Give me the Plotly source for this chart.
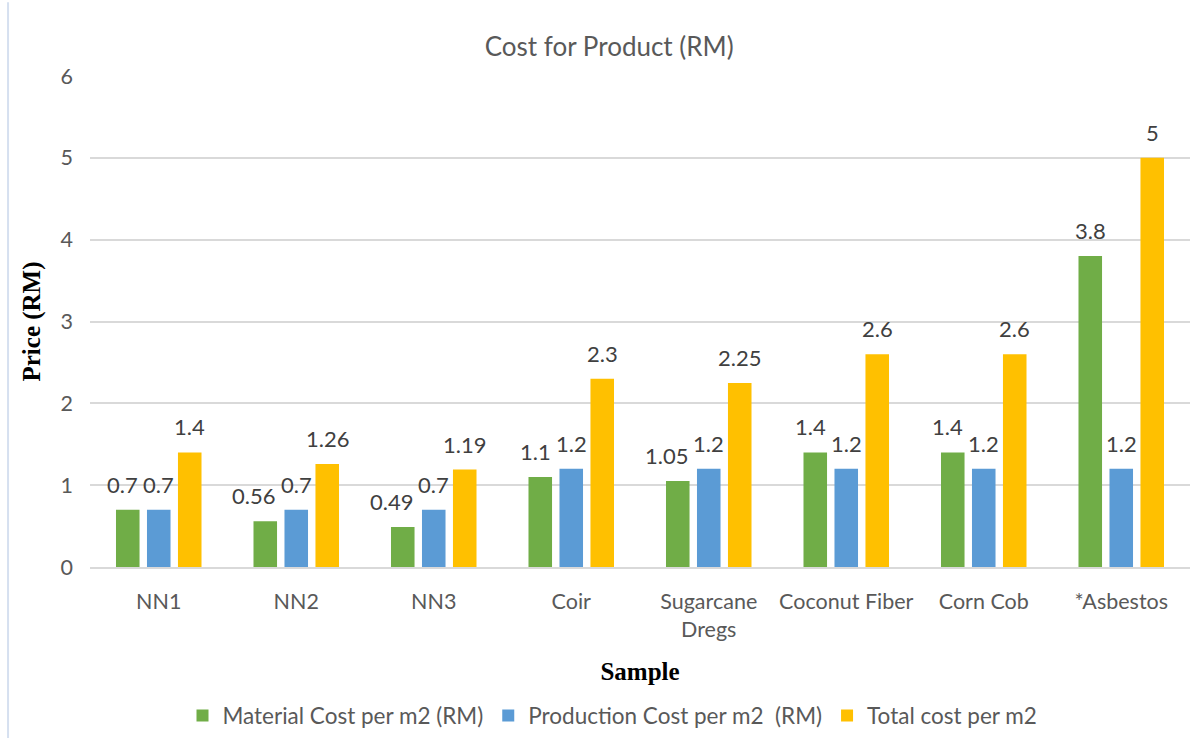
import plotly.graph_objects as go

categories = ["NN1", "NN2", "NN3", "Coir", "Sugarcane<br>Dregs", "Coconut Fiber", "Corn Cob", "*Asbestos"]
material = [0.7, 0.56, 0.49, 1.1, 1.05, 1.4, 1.4, 3.8]
production = [0.7, 0.7, 0.7, 1.2, 1.2, 1.2, 1.2, 1.2]
total = [1.4, 1.26, 1.19, 2.3, 2.25, 2.6, 2.6, 5]
series_names = ["Material Cost per m2 (RM)", "Production Cost per m2  (RM)", "Total cost per m2"]
colors = ["#70AD47", "#5B9BD5", "#FFC000"]

FONT = "Lato, Open Sans, sans-serif"
W, H = 1204, 738
ML, MR, MT, MB = 90, 14, 76, 171
BARGAP = 0.324
GROUPGAP = 0.24
YMAX = 6
LABEL_SIZE = 22
PLOT_W = W - ML - MR
PLOT_H = H - MT - MB

fig = go.Figure()
series = [material, production, total]
for name, vals, col in zip(series_names, series, colors):
    fig.add_trace(go.Bar(x=categories, y=vals, name=name, marker_color=col, marker_line_width=0))

# data labels at each bar's value, nudged sideways when neighbouring labels would collide
slot = PLOT_W / len(categories) * (1 - BARGAP) / len(series)
px_per_unit = PLOT_H / YMAX


def text_width(s):
    return sum(0.58 * LABEL_SIZE if ch.isdigit() else 0.25 * LABEL_SIZE for ch in s)


for ci, c in enumerate(categories):
    vals = [s[ci] for s in series]
    texts = [f"{v:g}" for v in vals]
    widths = [text_width(t) for t in texts]
    shifts = [(i - 1) * slot for i in range(len(series))]
    for i in range(len(series) - 2, -1, -1):
        j = i + 1
        if abs(vals[i] - vals[j]) * px_per_unit < 26:
            need = widths[i] / 2 + widths[j] / 2 + 5
            dist = shifts[j] - shifts[i]
            if dist < need:
                shifts[i] -= need - dist
    for i, (v, t) in enumerate(zip(vals, texts)):
        fig.add_annotation(x=c, y=v, xref="x", yref="y", text=t, showarrow=False,
                           xshift=shifts[i], yshift=10, yanchor="bottom",
                           font=dict(size=LABEL_SIZE, color="#404040", family=FONT))

fig.update_layout(
    width=W, height=H,
    margin=dict(l=ML, r=MR, t=MT, b=MB, autoexpand=False),
    paper_bgcolor="white", plot_bgcolor="white",
    font=dict(family=FONT, color="#595959", size=21),
    title=dict(text="Cost for Product (RM)", x=0.506, xanchor="center", y=0.936, yanchor="middle",
               font=dict(size=26, color="#595959", family=FONT)),
    barmode="group", bargap=BARGAP, bargroupgap=GROUPGAP,
    legend=dict(orientation="h", x=0.475, xanchor="center", y=-0.303, yanchor="middle",
                font=dict(size=22.5, color="#595959", family=FONT), itemwidth=30, traceorder="normal"),
    xaxis=dict(title=dict(text="<b>Sample</b>", font=dict(family="Liberation Serif, serif", size=25, color="black"),
                          standoff=22),
               tickfont=dict(size=21.5, color="#595959", family=FONT), showline=True, linecolor="#D9D9D9",
               linewidth=2, ticks="", ticklabelstandoff=14, automargin=False),
    yaxis=dict(title=dict(text="<b>Price (RM)</b>", font=dict(family="Liberation Serif, serif", size=25, color="black"),
                          standoff=12),
               range=[0, YMAX], dtick=1, showgrid=True, gridcolor="#D9D9D9", gridwidth=1.5,
               zeroline=False, tickfont=dict(size=21.5, color="#595959", family=FONT), ticks="",
               ticklabelstandoff=16, automargin=False),
)
fig.add_shape(type="line", xref="paper", yref="paper", x0=-0.0745, x1=-0.0745, y0=-0.35, y1=1.15,
              line=dict(color="#D6E0F0", width=2))
fig.write_html("out.html")
